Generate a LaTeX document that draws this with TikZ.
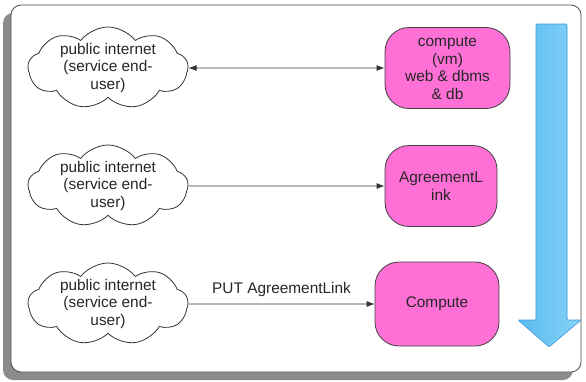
\documentclass[tikz,border=0pt]{standalone}
\usepackage{fontspec}
\setmainfont{Liberation Sans}
\usetikzlibrary{shapes.symbols,arrows.meta}

\definecolor{boxpink}{RGB}{255,112,214}
\definecolor{arrowblue}{RGB}{90,188,240}
\definecolor{arrowlight}{RGB}{135,210,248}
\definecolor{arrowedge}{RGB}{55,150,220}

\tikzset{
  txt/.style={font=\fontsize{15.4}{17.5}\selectfont, align=center, text=black!85},
  netcloud/.style={txt, cloud, cloud puffs=9, cloud puff arc=105, cloud ignores aspect,
    draw=black!80, line width=0.8pt, fill=white, minimum width=160pt, minimum height=82pt, inner sep=-6pt},
  service/.style={txt, draw=black!75, line width=0.8pt, fill=boxpink, rounded corners=24pt,
    inner sep=0pt},
  link/.style={line width=0.8pt, draw=black!80, -{Latex[length=8pt,width=6pt]}},
  biglink/.style={link, {Latex[length=8pt,width=6pt]}-{Latex[length=8pt,width=6pt]}}
}

\begin{document}
\begin{tikzpicture}[x=1pt, y=-1pt]
  \useasboundingbox (0,0) rectangle (586,381);

  % frame with its drop shadow
  \fill[black!45, rounded corners=10pt] (3,13) rectangle (573,380);
  \draw[black!70, line width=0.8pt, fill=white, rounded corners=10pt] (11,5) rectangle (581,372);

  % end users
  \node[netcloud] (c1) at (108,68)  {public internet\\(service end-\\user)};
  \node[netcloud] (c2) at (108,186) {public internet\\(service end-\\user)};
  \node[netcloud] (c3) at (108,304) {public internet\\(service end-\\user)};

  % services
  \node[service, minimum width=125pt, minimum height=81pt] (b1) at (447.5,68)
    {compute\\(vm)\\web \& dbms\\\& db};
  \node[service, minimum width=112pt, minimum height=81pt] (b2) at (441,186)
    {AgreementL\\ink};
  \node[service, minimum width=124pt, minimum height=84pt] (b3) at (437,304)
    {Compute};

  % links
  \draw[biglink] (c1.east) -- (b1.west);
  \draw[link] (c2.east) -- (b2.west);
  \draw[link] (c3.east) -- node[txt, above=4pt] (lbl) {PUT AgreementLink} (b3.west);

  % downward flow arrow
  \shade[left color=arrowblue, right color=arrowlight, draw=arrowedge, line width=0.6pt, rounded corners=1pt]
    (536,24) -- (567,24) -- (567,320) -- (581,320) -- (549,347) -- (518,320) -- (536,320) -- cycle;
\end{tikzpicture}
\end{document}
